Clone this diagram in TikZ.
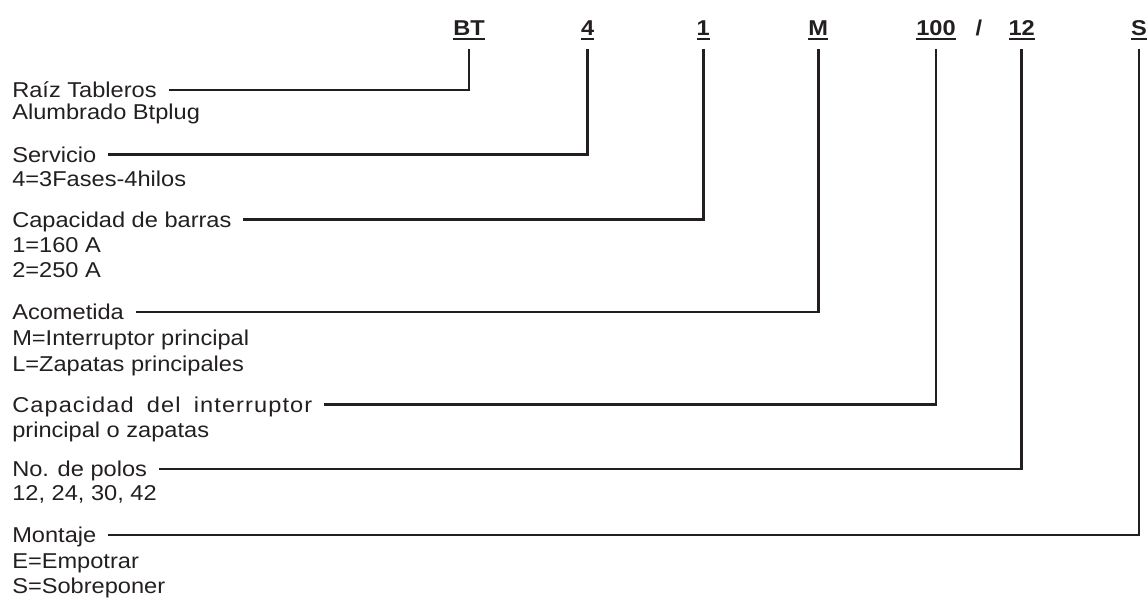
\documentclass[tikz,border=0pt]{standalone}
\usepackage{fontspec}
\setmainfont{Liberation Sans}[FakeStretch=1.1]
\definecolor{ink}{HTML}{231F20}
\newlength\pxu \setlength\pxu{0.75pt}
\newcommand\ulbox[1]{\setbox0\hbox{#1}\rlap{\rule[-3.7\pxu]{\wd0}{2\pxu}}\box0}
\tikzset{
  desc/.style={anchor=base west, inner sep=0pt, text height=17\pxu, text depth=2\pxu, text=ink},
  sub/.style={anchor=base west, inner sep=0pt, text=ink},
  hdr/.style={anchor=base, inner sep=0pt, text depth=14\pxu, text=ink, font=\fontsize{16.1pt}{19pt}\selectfont\bfseries},
  link/.style={draw=ink, line width=2pt, line cap=rect},
}
\begin{document}
\begin{tikzpicture}[x=0.75pt, y=-0.75pt, font=\fontsize{16.1pt}{19pt}\selectfont]
\useasboundingbox (0,0) rectangle (1148,599);
% header code
\node[hdr] (hBT) at (469,36) {\ulbox{BT}};
\node[hdr] (h4) at (587.7,36) {\ulbox{4}};
\node[hdr] (h1) at (703.3,36) {\ulbox{1}};
\node[hdr] (hM) at (818.3,36) {\ulbox{M}};
\node[hdr] (h100) at (936,36) {\ulbox{100}};
\node[hdr, text depth=0pt] (hsl) at (979,36) {/};
\node[hdr] (h12) at (1021.7,36) {\ulbox{12}};
\node[hdr] (hS) at (1139,36) {\ulbox{S}};
% descriptions
\node[desc] (d1) at (12,97.5) {Raíz Tableros};
\node[sub] (d1a) at (12,120) {Alumbrado Btplug};
\node[desc] (d2) at (12,162) {Servicio};
\node[sub] (d2a) at (12,186.5) {4=3Fases-4hilos};
\node[desc] (d3) at (12,227) {Capacidad de barras};
\node[sub] (d3a) at (12,252.5) {1=160 A};
\node[sub] (d3b) at (12,277.5) {2=250 A};
\node[desc] (d4) at (12,319.5) {Acometida};
\node[sub] (d4a) at (12,345.5) {M=Interruptor principal};
\node[sub] (d4b) at (12,371) {L=Zapatas principales};
\node[desc] (d5) at (12,412) {\makebox[300\pxu][s]{\addfontfeature{LetterSpace=5}Capacidad del interruptor}};
\node[sub] (d5a) at (12,437) {principal o zapatas};
\node[desc] (d6) at (12,476.5) {No. de polos};
\node[sub] (d6a) at (12,500.5) {12, 24, 30, 42};
\node[desc] (d7) at (12,542.5) {Montaje};
\node[sub] (d7a) at (12,568) {E=Empotrar};
\node[sub] (d7b) at (12,593) {S=Sobreponer};
% connectors
\draw[link] ([xshift=13\pxu]d1.east) -| (hBT.south);
\draw[link] ([xshift=13\pxu]d2.east) -| (h4.south);
\draw[link] ([xshift=13\pxu]d3.east) -| (h1.south);
\draw[link] ([xshift=13\pxu]d4.east) -| (hM.south);
\draw[link] ([xshift=13\pxu]d5.east) -| (h100.south);
\draw[link] ([xshift=13\pxu]d6.east) -| (h12.south);
\draw[link] ([xshift=13\pxu]d7.east) -| (hS.south);
\end{tikzpicture}
\end{document}
